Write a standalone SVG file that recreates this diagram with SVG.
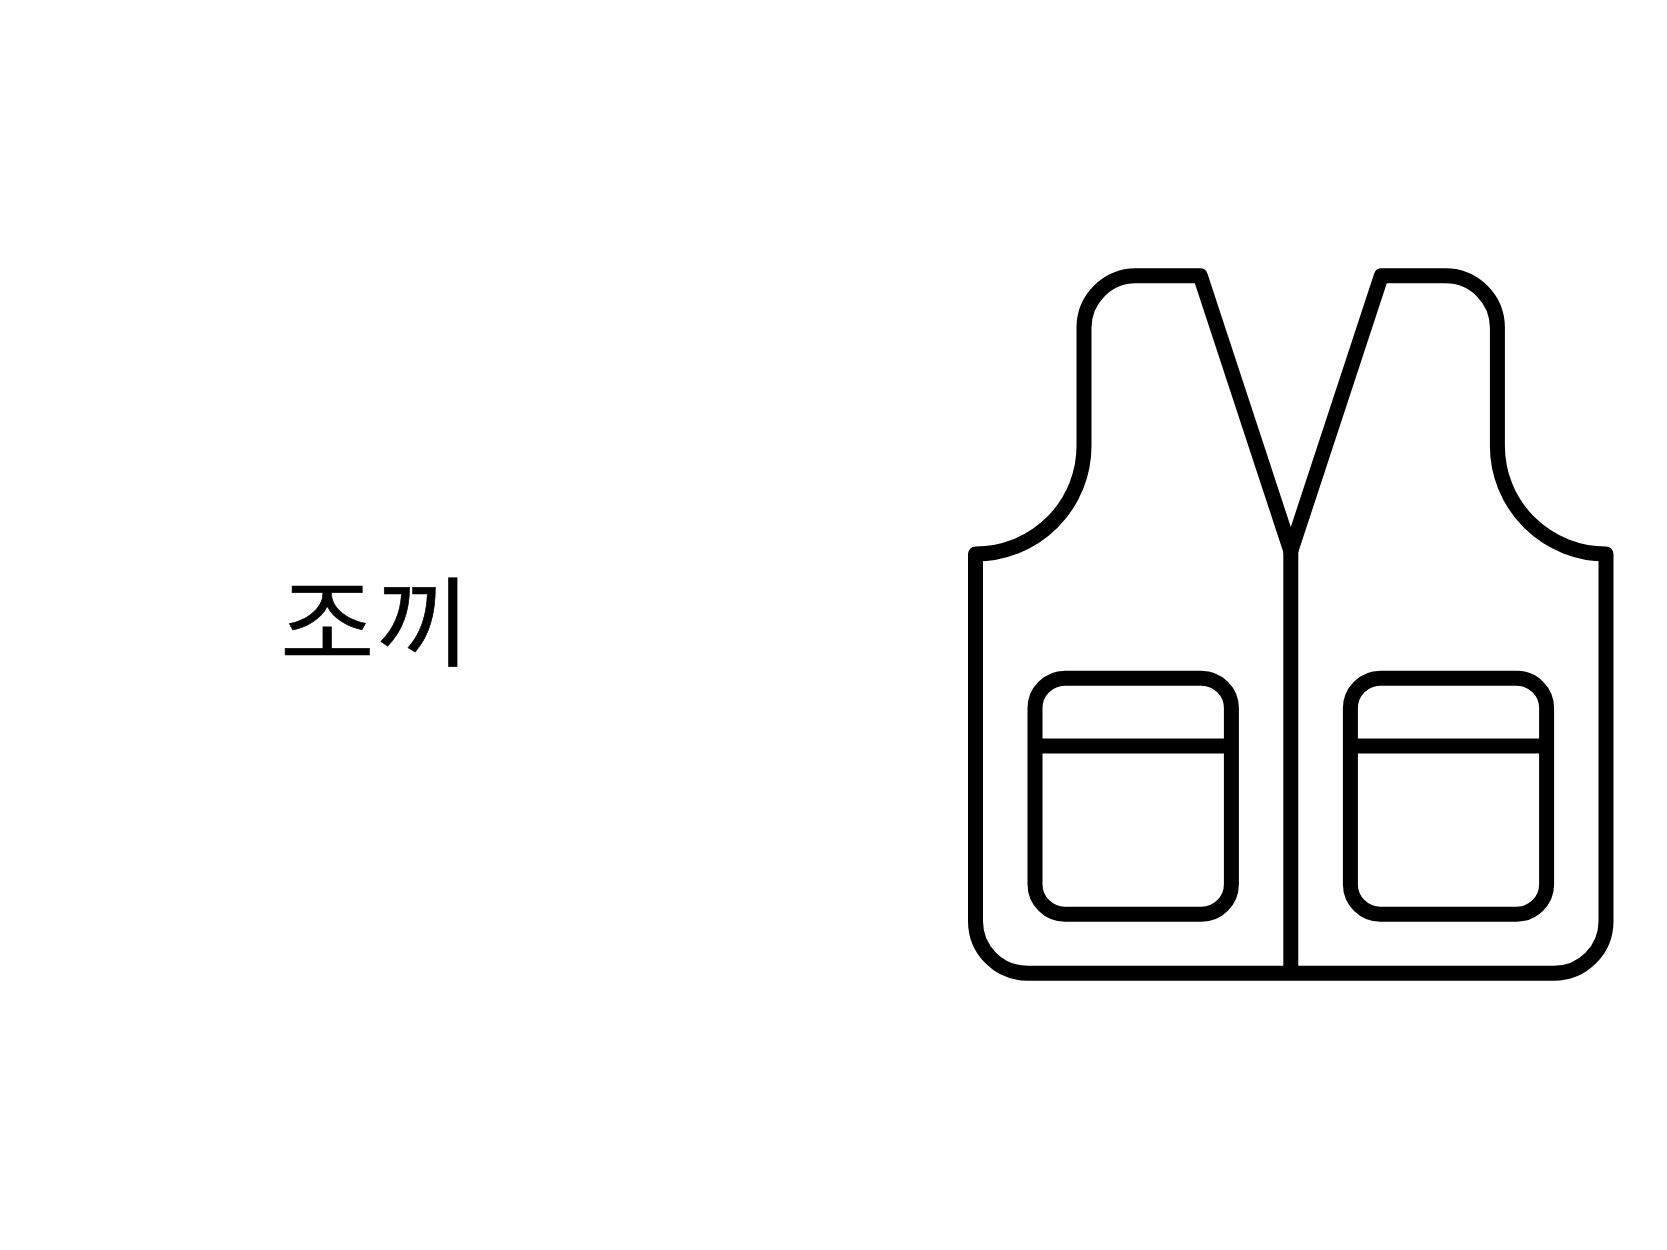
<svg xmlns="http://www.w3.org/2000/svg" width="1667" height="1250" viewBox="0 0 1667 1250">
<style>
.o{fill:none;stroke:#000;stroke-width:15;stroke-linejoin:round;stroke-linecap:butt}
.t{font-family:"Noto Sans CJK KR","Noto Sans",sans-serif;font-size:97px;fill:#000;stroke:#000;stroke-width:.6px;letter-spacing:1px}
</style>
<rect width="1667" height="1250" fill="#fff"/>
<text id="label" class="t" transform="translate(280 658) scale(1.06 1)">조끼</text>
<g id="vest">
<path class="o" d="M975.5 554A108.500 108 0 0 0 1084 446V328A52 52 0 0 1 1136 275.800H1200.300L1290.800 551L1381.300 275.800H1445.400A52 52 0 0 1 1497.400 328V446A108.600 108 0 0 0 1606 554V921.200A52 52 0 0 1 1554 973.200H1027.500A52 52 0 0 1 975.500 921.200Z"/>
<path class="o" d="M1290.800 551V973.200"/>
<rect class="o" x="1035" y="678.200" width="196.400" height="236" rx="30" ry="30"/>
<rect class="o" x="1350.400" y="678.200" width="196.200" height="236" rx="30" ry="30"/>
<path class="o" d="M1035 746H1231.400M1350.400 746H1546.600"/>
</g>
</svg>
